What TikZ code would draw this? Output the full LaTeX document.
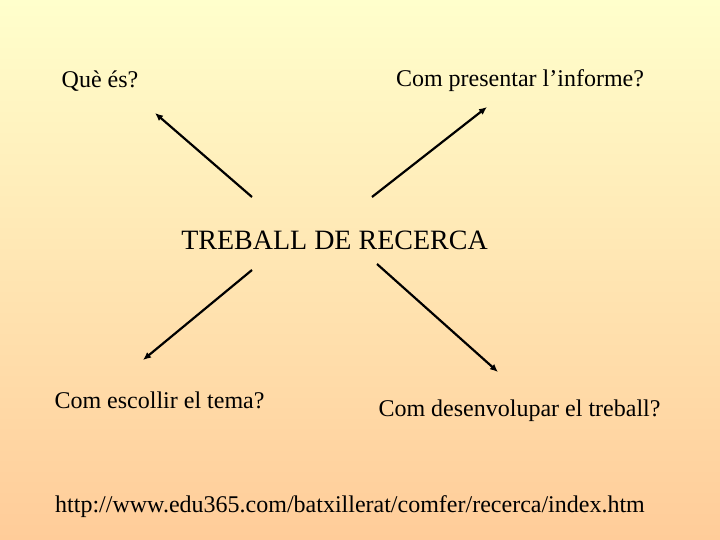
\documentclass[tikz,border=0pt]{standalone}
\usepackage{fontspec}
\setmainfont{Liberation Serif}
\usetikzlibrary{arrows.meta}
\begin{document}
\begin{tikzpicture}[x=1pt,y=-1pt,
  lbl/.style={inner sep=0pt,font=\fontsize{24}{28}\selectfont},
  ttl/.style={inner sep=0pt,font=\fontsize{28}{32}\selectfont},
  arr/.style={line width=2.2pt,-{Latex[length=8pt,width=7pt]}}]
\shade[top color={rgb,255:red,255;green,255;blue,204},bottom color={rgb,255:red,255;green,204;blue,153}] (0,0) rectangle (720,540);
\useasboundingbox (0,0) rectangle (720,540);
\node[lbl] (q) at (100,81) {Què és?};
\node[lbl] (p) at (520,81) {Com presentar l’informe?};
\node[ttl] (t) at (334.5,240) {TREBALL DE RECERCA};
\node[lbl] (e) at (159.5,400) {Com escollir el tema?};
\node[lbl] (d) at (519.5,411) {Com desenvolupar el treball?};
\node[lbl] (u) at (350,507) {http://www.edu365.com/batxillerat/comfer/recerca/index.htm};
\coordinate (a1s) at (252,197);
\coordinate (a1e) at (155,113);
\coordinate (a2s) at (372,197);
\coordinate (a2e) at (487,107);
\coordinate (a3s) at (252,270);
\coordinate (a3e) at (143,360);
\coordinate (a4s) at (377,264);
\coordinate (a4e) at (498,372);
\draw[arr] (a1s) -- (a1e);
\draw[arr] (a2s) -- (a2e);
\draw[arr] (a3s) -- (a3e);
\draw[arr] (a4s) -- (a4e);
\end{tikzpicture}
\end{document}
